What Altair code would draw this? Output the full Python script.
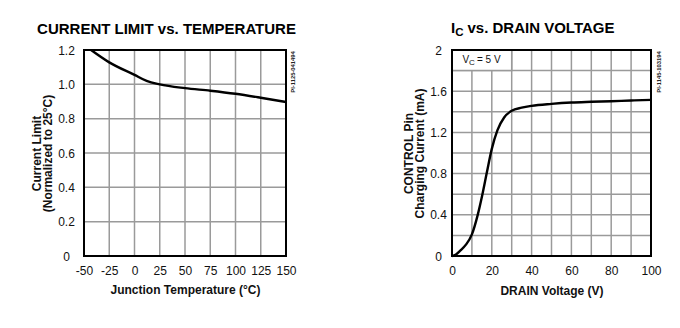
import altair as alt
import pandas as pd

# ---- data: left panel (current limit vs. temperature) ----
temp_c = [-43, -25, 0, 12, 25, 50, 75, 100, 125, 150]
current_limit = [1.2, 1.128, 1.055, 1.02, 1.0, 0.978, 0.963, 0.945, 0.922, 0.897]
left_x_ticks = [-50, -25, 0, 25, 50, 75, 100, 125, 150]
left_y_ticks = [0, 0.2, 0.4, 0.6, 0.8, 1.0, 1.2]

# ---- data: right panel (Ic vs. drain voltage) ----
drain_v = [0, 2, 4, 7, 10, 12.8, 15.3, 17.5, 20, 22.8, 26.2, 30, 35, 40, 50, 60, 70, 80, 90, 100]
ic_ma = [0, 0.015, 0.05, 0.11, 0.21, 0.39, 0.6, 0.81, 1.04, 1.22, 1.345, 1.41, 1.44, 1.458,
         1.477, 1.49, 1.497, 1.503, 1.51, 1.516]
right_x_grid = [10, 20, 30, 40, 50, 60, 70, 80, 90]
right_y_grid = [0.2, 0.4, 0.6, 0.8, 1.0, 1.2, 1.4, 1.6, 1.8]
right_x_ticks = [0, 20, 40, 60, 80, 100]
right_y_ticks = [0, 0.4, 0.8, 1.2, 1.6, 2.0]

left_title = ["CURRENT LIMIT vs. TEMPERATURE"]
right_title_parts = ["I", "C", "vs. DRAIN VOLTAGE"]
vc_label_parts = ["V", "C", "= 5 V"]
left_code = ["PI-1125-041494"]
right_code = ["PI-1145-103194"]
left_xtitle = "Junction Temperature (°C)"
right_xtitle = "DRAIN Voltage (V)"
left_ytitle = ["Current Limit", "(Normalized to 25°C)"]
right_ytitle = ["CONTROL Pin", "Charging Current (mA)"]

W1, W2, H = 202, 199, 206
FONT = "Liberation Sans"
GRID = "#9a9a9a"

def txt(s):
    return pd.DataFrame({"s": s})

one = pd.DataFrame({"a": [0]})
common_axis = dict(labelOverlap=False, labelFlush=False)

# ---------------- left panel ----------------
xs_l = alt.Scale(domain=[-50, 150], nice=False, zero=False)
ys_l = alt.Scale(domain=[0, 1.2], nice=False)
ax_lx = alt.Axis(values=left_x_ticks, title=left_xtitle, labelExpr="datum.value + ''",
                 labelPadding=14, labelBaseline="middle", titleY=33, titleBaseline="middle",
                 **common_axis)
ax_ly = alt.Axis(values=left_y_ticks,
                 labelExpr="datum.value == 0 ? '0' : format(datum.value, '.1f')",
                 labelAlign="center", labelPadding=18,
                 title=left_ytitle, titleX=-48, titleY=H / 2,
                 titleAlign="center", titleBaseline="middle", titleLineHeight=11, **common_axis)

df_l = pd.DataFrame({"t": temp_c, "c": current_limit})
gx_l = alt.Chart(pd.DataFrame({"t": left_x_ticks})).mark_rule(color=GRID, strokeWidth=1.5).encode(
    x=alt.X("t:Q", scale=xs_l, axis=ax_lx))
gy_l = alt.Chart(pd.DataFrame({"c": left_y_ticks})).mark_rule(color=GRID, strokeWidth=1.5).encode(
    y=alt.Y("c:Q", scale=ys_l, axis=ax_ly))
line_l = alt.Chart(df_l).mark_line(color="black", strokeWidth=2.4, interpolate="monotone").encode(
    x=alt.X("t:Q", scale=xs_l, axis=ax_lx),
    y=alt.Y("c:Q", scale=ys_l, axis=ax_ly),
)
title_l = alt.Chart(txt(left_title)).mark_text(
    font=FONT, fontSize=15, fontWeight="bold", align="center", baseline="alphabetic", color="black"
).encode(text="s:N", x=alt.value(82.5), y=alt.value(-16))
code_l = alt.Chart(txt(left_code)).mark_text(
    font=FONT, fontSize=5.8, fontWeight="bold", angle=270, align="center", baseline="middle", color="#222"
).encode(text="s:N", x=alt.value(W1 + 7), y=alt.value(22))
border_l = alt.Chart(one).mark_rect(fillOpacity=0, stroke="black", strokeWidth=2).encode(
    x=alt.value(0), x2=alt.value(W1), y=alt.value(0), y2=alt.value(H))
left = alt.layer(gx_l, gy_l, line_l, title_l, code_l, border_l).properties(width=W1, height=H)

# ---------------- right panel ----------------
xs_r = alt.Scale(domain=[0, 100], nice=False)
ys_r = alt.Scale(domain=[0, 2], nice=False)
ax_rx = alt.Axis(values=right_x_ticks, title=right_xtitle,
                 labelPadding=14, labelBaseline="middle", titleY=34, titleBaseline="middle",
                 **common_axis)
ax_ry = alt.Axis(values=right_y_ticks,
                 labelExpr="datum.value == 0 ? '0' : (datum.value == 2 ? '2' : format(datum.value, '.1f'))",
                 labelAlign="center", labelPadding=14,
                 title=right_ytitle, titleX=-44, titleY=H / 2,
                 titleAlign="center", titleBaseline="middle", titleLineHeight=11, **common_axis)

df_r = pd.DataFrame({"v": drain_v, "i": ic_ma})
gx_r = alt.Chart(pd.DataFrame({"v": right_x_grid})).mark_rule(color=GRID, strokeWidth=1.5).encode(
    x=alt.X("v:Q", scale=xs_r, axis=ax_rx))
gy_r = alt.Chart(pd.DataFrame({"i": right_y_grid})).mark_rule(color=GRID, strokeWidth=1.5).encode(
    y=alt.Y("i:Q", scale=ys_r, axis=ax_ry))
box_r = alt.Chart(pd.DataFrame({"v": [0], "v2": [30], "i": [1.8], "i2": [2.0]})).mark_rect(
    fill="white", stroke=GRID, strokeWidth=1.5).encode(
    x=alt.X("v:Q", scale=xs_r, axis=ax_rx), x2="v2:Q",
    y=alt.Y("i:Q", scale=ys_r, axis=ax_ry), y2="i2:Q")
line_r = alt.Chart(df_r).mark_line(color="black", strokeWidth=2.4, interpolate="monotone").encode(
    x=alt.X("v:Q", scale=xs_r, axis=ax_rx),
    y=alt.Y("i:Q", scale=ys_r, axis=ax_ry),
)
vc_v = alt.Chart(txt(vc_label_parts[:1])).mark_text(
    font=FONT, fontSize=10, align="left", baseline="alphabetic", color="#111"
).encode(text="s:N", x=alt.value(10.5), y=alt.value(12.5))
vc_c = alt.Chart(txt(vc_label_parts[1:2])).mark_text(
    font=FONT, fontSize=8, align="left", baseline="alphabetic", color="#111"
).encode(text="s:N", x=alt.value(17.0), y=alt.value(14.5))
vc_rest = alt.Chart(txt(vc_label_parts[2:])).mark_text(
    font=FONT, fontSize=10, align="left", baseline="alphabetic", color="#111"
).encode(text="s:N", x=alt.value(25.0), y=alt.value(12.5))
t_i = alt.Chart(txt(right_title_parts[:1])).mark_text(
    font=FONT, fontSize=15, fontWeight="bold", align="left", baseline="alphabetic", color="black"
).encode(text="s:N", x=alt.value(-1), y=alt.value(-17))
t_c = alt.Chart(txt(right_title_parts[1:2])).mark_text(
    font=FONT, fontSize=11.5, fontWeight="bold", align="left", baseline="alphabetic", color="black"
).encode(text="s:N", x=alt.value(3.3), y=alt.value(-14.5))
t_rest = alt.Chart(txt(right_title_parts[2:])).mark_text(
    font=FONT, fontSize=15, fontWeight="bold", align="left", baseline="alphabetic", color="black"
).encode(text="s:N", x=alt.value(15.5), y=alt.value(-17))
code_r = alt.Chart(txt(right_code)).mark_text(
    font=FONT, fontSize=5.8, fontWeight="bold", angle=270, align="center", baseline="middle", color="#222"
).encode(text="s:N", x=alt.value(W2 + 7.5), y=alt.value(22))
border_r = alt.Chart(one).mark_rect(fillOpacity=0, stroke="black", strokeWidth=2).encode(
    x=alt.value(0), x2=alt.value(W2), y=alt.value(0), y2=alt.value(H))
right = alt.layer(gx_r, gy_r, box_r, line_r, vc_v, vc_c, vc_rest, t_i, t_c, t_rest, code_r,
                  border_r).properties(width=W2, height=H)

chart = alt.hconcat(left, right, spacing=166, bounds="flush").properties(
    padding={"left": 30, "top": 21, "right": 5, "bottom": 5}
).configure(font=FONT).configure_view(strokeWidth=0).configure_axis(
    labelFont=FONT, labelFontSize=12, labelColor="#111",
    titleFont=FONT, titleFontSize=12, titleFontWeight="bold", titleColor="#111",
    grid=False, domain=False, ticks=False, tickSize=0,
)

chart.save("out.html", embed_options={"renderer": "svg", "actions": False})
